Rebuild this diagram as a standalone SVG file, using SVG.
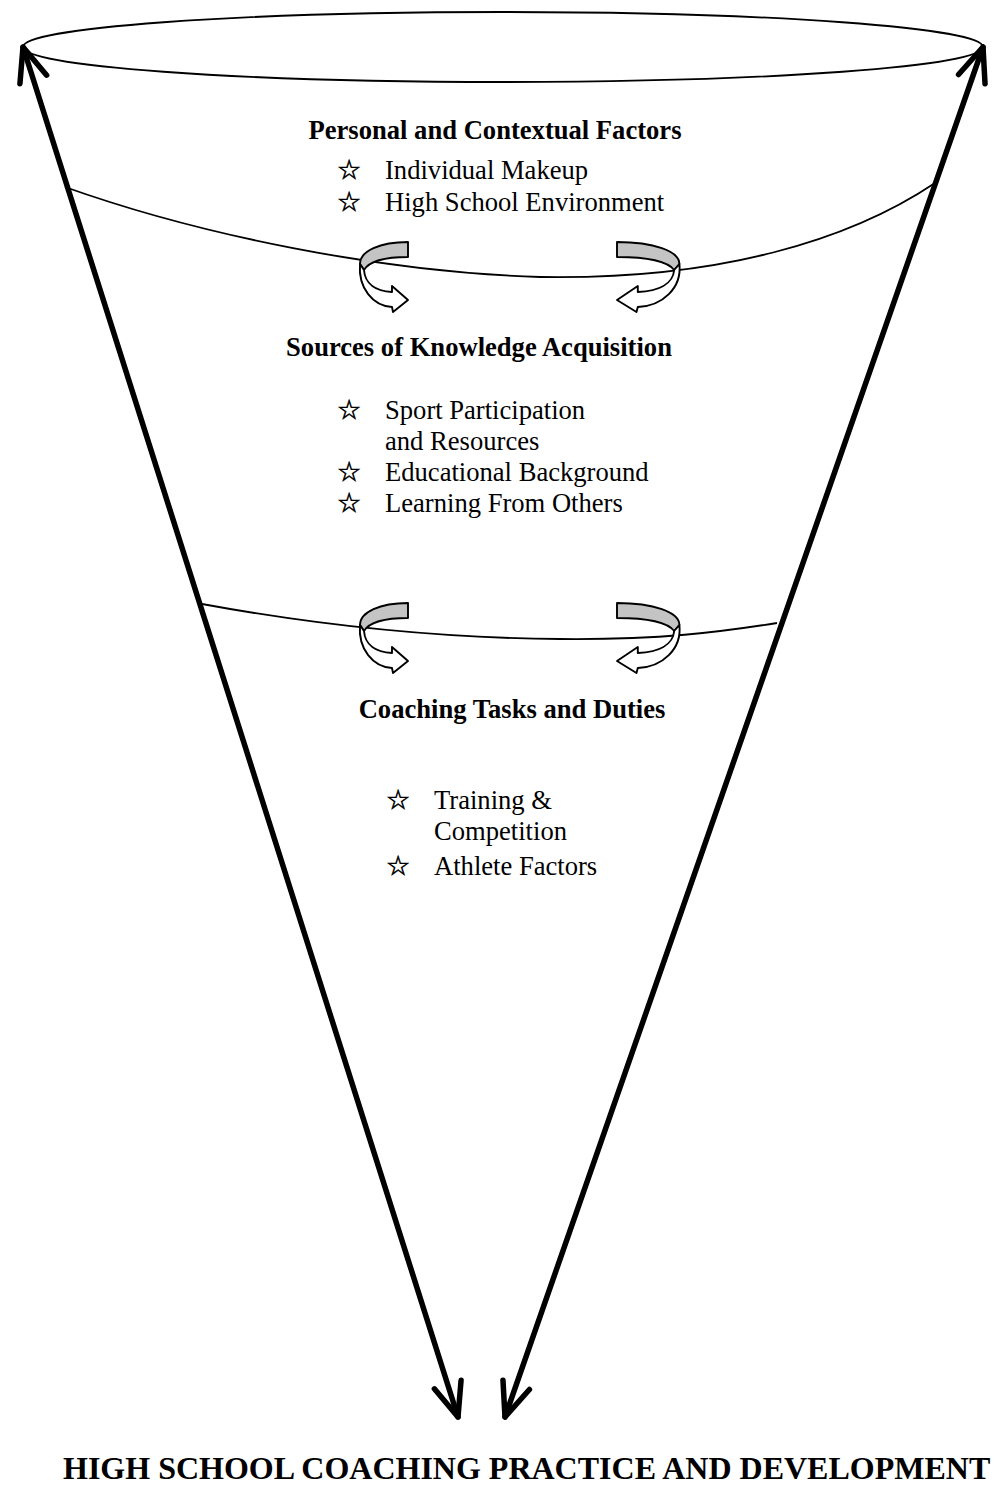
<svg xmlns="http://www.w3.org/2000/svg" xmlns:xlink="http://www.w3.org/1999/xlink" width="997" height="1486" viewBox="0 0 997 1486">
  <style>
    .ring { fill: none; stroke: #000; stroke-width: 1.8; }
    .axis { fill: none; stroke: #000; stroke-width: 5.5; stroke-linecap: round; }
    .back { fill: #c4c4c4; stroke: #000; stroke-width: 1.9; stroke-linejoin: round; }
    .front { fill: #fff; stroke: #000; stroke-width: 1.9; stroke-linejoin: round; }
    .head { font-family: "Liberation Serif", "Times New Roman", serif; font-weight: bold; font-size: 26.6px; fill: #000; }
    .item { font-family: "Liberation Serif", "Times New Roman", serif; font-size: 26.6px; fill: #000; }
    .star { font-family: "DejaVu Sans", sans-serif; font-size: 27px; fill: #000; stroke: #000; stroke-width: 0.6; }
    .title { font-family: "Liberation Serif", "Times New Roman", serif; font-weight: bold; font-size: 32px; fill: #000; }
  </style>
  <defs>
    <marker id="vhead" markerUnits="userSpaceOnUse" markerWidth="60" markerHeight="60" refX="0" refY="0" viewBox="-45 -30 60 60" orient="auto-start-reverse" overflow="visible">
      <path d="M-34,-14 L0,0 L-34,14" fill="none" stroke="#000" stroke-width="5.5" stroke-linecap="round" stroke-linejoin="round"/>
    </marker>
    <!-- ribbon arrow curling round the funnel -->
    <g id="curl">
      <path class="back" vector-effect="non-scaling-stroke" d="M2,22 C2,9 22,0 50,0 L50,15 C30,15 12,18 6,28 Z"/>
      <path class="front" vector-effect="non-scaling-stroke" d="M2,22 C0,46 15,64 34,65 L35,70 L50,58 L34,44 L34,50 C18,49 7,42 6,28 Z"/>
    </g>
  </defs>

  <rect width="997" height="1486" fill="#fff"/>

  <!-- funnel rim and level rings -->
  <g id="connectors">
    <ellipse class="ring" cx="503" cy="47" rx="480" ry="35"/>
    <path class="ring" d="M65,187 C200,235 380,272 540,277 C720,280 850,240 935,183"/>
    <path class="ring" d="M202,604 C300,622 420,638 560,639 C660,640 720,632 777,623"/>
    <path class="axis" d="M458,1417 L23,47" marker-start="url(#vhead)" marker-end="url(#vhead)"/>
    <path class="axis" d="M505,1417 L983,47" marker-start="url(#vhead)" marker-end="url(#vhead)"/>
  </g>

  <!-- exchange arrows between levels -->
  <g id="curls-1">
    <use xlink:href="#curl" transform="translate(358,242)"/>
    <use xlink:href="#curl" transform="translate(682,242) scale(-1.3,1)"/>
  </g>
  <g id="curls-2">
    <use xlink:href="#curl" transform="translate(358,603)"/>
    <use xlink:href="#curl" transform="translate(682,603) scale(-1.3,1)"/>
  </g>

  <g id="personal">
    <text class="head" x="495" y="139" text-anchor="middle">Personal and Contextual Factors</text>
    <text class="star" x="337" y="179">☆</text>
    <text class="item" x="385" y="179">Individual Makeup</text>
    <text class="star" x="337" y="211">☆</text>
    <text class="item" x="385" y="211">High School Environment</text>
  </g>

  <g id="sources">
    <text class="head" x="479" y="356" text-anchor="middle">Sources of Knowledge Acquisition</text>
    <text class="star" x="337" y="419">☆</text>
    <text class="item" x="385" y="419">Sport Participation</text>
    <text class="item" x="385" y="450">and Resources</text>
    <text class="star" x="337" y="481">☆</text>
    <text class="item" x="385" y="481">Educational Background</text>
    <text class="star" x="337" y="512">☆</text>
    <text class="item" x="385" y="512">Learning From Others</text>
  </g>

  <g id="coaching">
    <text class="head" x="512" y="718" text-anchor="middle">Coaching Tasks and Duties</text>
    <text class="star" x="386" y="809" font-size="30">☆</text>
    <text class="item" x="434" y="809">Training &amp;</text>
    <text class="item" x="434" y="840">Competition</text>
    <text class="star" x="386" y="875" font-size="30">☆</text>
    <text class="item" x="434" y="875">Athlete Factors</text>
  </g>

  <g id="outcome">
    <text class="title" x="63" y="1479">HIGH SCHOOL COACHING PRACTICE AND DEVELOPMENT</text>
  </g>
</svg>
